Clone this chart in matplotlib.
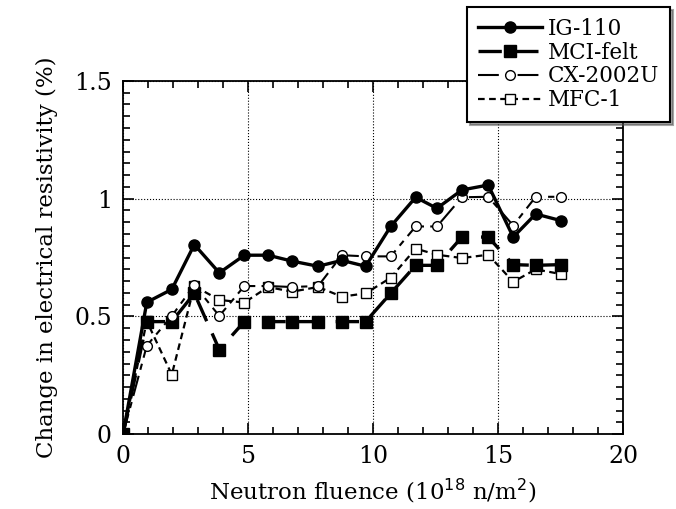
import numpy as np
import matplotlib.pyplot as plt
from matplotlib.ticker import MultipleLocator

# fluence (10^18 n/m^2), shared by all grades
fluence = [0, 0.95, 1.95, 2.85, 3.85, 4.85, 5.8, 6.75, 7.8, 8.75, 9.7,
           10.7, 11.7, 12.55, 13.55, 14.6, 15.6, 16.5, 17.5]

# change in electrical resistivity (%)
ig110 = [0, 0.56, 0.615, 0.805, 0.685, 0.76, 0.76, 0.735, 0.713, 0.738, 0.713,
         0.882, 1.006, 0.959, 1.037, 1.058, 0.837, 0.935, 0.907]
mci_felt = [0, 0.478, 0.478, 0.598, 0.359, 0.478, 0.478, 0.478, 0.478, 0.478, 0.478,
            0.598, 0.717, 0.717, 0.837, 0.837, 0.72, 0.717, 0.72]
cx2002u = [0, 0.376, 0.502, 0.633, 0.502, 0.629, 0.629, 0.625, 0.629, 0.76, 0.755,
           0.755, 0.882, 0.882, 1.006, 1.008, 0.886, 1.008, 1.008]
mfc1 = [0, 0.48, 0.253, 0.629, 0.57, 0.559, 0.625, 0.605, 0.625, 0.584, 0.598,
        0.664, 0.788, 0.762, 0.748, 0.762, 0.647, 0.70, 0.68]

labels = ['IG-110', 'MCI-felt', 'CX-2002U', 'MFC-1']
ytick_labels = ['0', '0.5', '1', '1.5']

plt.rcParams['font.family'] = 'DejaVu Serif'

fig = plt.figure(figsize=(6.76, 5.09), dpi=100)
ax = fig.add_axes([0.182, 0.147, 0.740, 0.694])

ax.plot(fluence, ig110, '-', color='black', lw=2.4, marker='o', ms=8,
        mfc='black', label=labels[0], zorder=4)
ax.plot(fluence, mci_felt, color='black', lw=2.4, dashes=(7, 4), marker='s', ms=8,
        mfc='black', label=labels[1], zorder=3)
ax.plot(fluence, cx2002u, color='black', lw=1.5, dashes=(10, 3, 3, 3), marker='o', ms=7,
        mfc='white', mew=1.0, label=labels[2], zorder=3)
ax.plot(fluence, mfc1, color='black', lw=1.6, dashes=(3, 2), marker='s', ms=7,
        mfc='white', mew=1.0, label=labels[3], zorder=2)

ax.set_xlim(0, 20)
ax.set_ylim(0, 1.5)
ax.xaxis.set_major_locator(MultipleLocator(5))
ax.xaxis.set_minor_locator(MultipleLocator(1))
ax.set_yticks([0, 0.5, 1, 1.5])
ax.set_yticklabels(ytick_labels)
ax.yaxis.set_minor_locator(MultipleLocator(0.05))
ax.tick_params(which='both', direction='in', top=True, right=True, width=1.2)
ax.tick_params(which='major', length=8, labelsize=17, pad=8)
ax.tick_params(which='minor', length=5)
for s in ax.spines.values():
    s.set_linewidth(1.3)
ax.grid(True, which='major', linestyle=':', color='black', lw=0.8)

ax.set_xlabel(r'Neutron fluence (10$^{18}$ n/m$^2$)', fontsize=16.5, labelpad=6)
ax.set_ylabel('Change in electrical resistivity (%)', fontsize=16.5, labelpad=12)

leg = ax.legend(loc='upper left', bbox_to_anchor=(0.691, 0.986),
                bbox_transform=fig.transFigure, borderaxespad=0, fontsize=15.5,
                frameon=True, fancybox=False, shadow=True, edgecolor='black',
                handlelength=3.0, handletextpad=0.25, labelspacing=0.08, borderpad=0.5)
leg.get_frame().set_linewidth(1.5)

fig.savefig('out.png', dpi=100)
